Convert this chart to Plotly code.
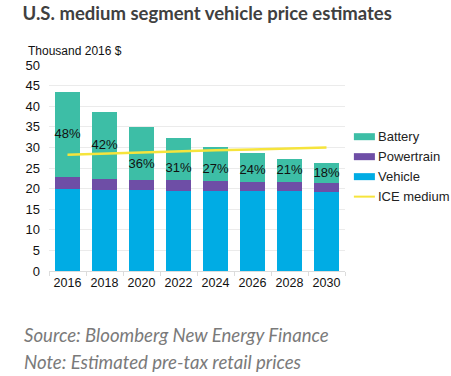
import plotly.graph_objects as go

years = ["2016", "2018", "2020", "2022", "2024", "2026", "2028", "2030"]
vehicle = [19.9, 19.7, 19.6, 19.5, 19.4, 19.4, 19.3, 19.2]
powertrain = [2.8, 2.7, 2.6, 2.6, 2.5, 2.3, 2.2, 2.2]
battery = [20.8, 16.1, 12.7, 10.2, 8.3, 6.9, 5.8, 4.8]
battery_share = ["48%", "42%", "36%", "31%", "27%", "24%", "21%", "18%"]
share_label_y = [33.0, 30.4, 25.7, 24.8, 24.5, 24.3, 24.3, 23.7]
ice_medium = [28.2, 28.5, 28.8, 29.0, 29.3, 29.5, 29.8, 30.0]

C_VEH = "#00ACE4"
C_PWR = "#6E4EA6"
C_BAT = "#3DBEA6"
C_ICE = "#F6E43C"

fig = go.Figure()
fig.add_bar(x=years, y=vehicle, name="Vehicle", marker_color=C_VEH, marker_line_width=0)
fig.add_bar(x=years, y=powertrain, name="Powertrain", marker_color=C_PWR, marker_line_width=0)
fig.add_bar(x=years, y=battery, name="Battery", marker_color=C_BAT, marker_line_width=0)
fig.add_scatter(x=years, y=ice_medium, name="ICE medium", mode="lines",
                line=dict(color=C_ICE, width=2.5))
fig.add_scatter(x=years, y=share_label_y, mode="text", text=battery_share,
                textfont=dict(family="Liberation Sans, Arial", size=13, color="#111"),
                showlegend=False, hoverinfo="skip")

# custom legend (paper coordinates)
legend_items = [("Battery", C_BAT, "bar"), ("Powertrain", C_PWR, "bar"),
                ("Vehicle", C_VEH, "bar"), ("ICE medium", C_ICE, "line")]
ys = [0.652, 0.555, 0.458, 0.361]
shapes = []
annotations = []
for (name, col, kind), yy in zip(legend_items, ys):
    if kind == "bar":
        shapes.append(dict(type="rect", xref="paper", yref="paper",
                           x0=1.030, x1=1.101, y0=yy - 0.017, y1=yy + 0.017,
                           fillcolor=col, line_width=0))
    else:
        shapes.append(dict(type="line", xref="paper", yref="paper",
                           x0=1.030, x1=1.101, y0=yy, y1=yy,
                           line=dict(color=col, width=2)))
    annotations.append(dict(text=name, xref="paper", yref="paper", x=1.105, y=yy,
                            xanchor="left", yanchor="middle", showarrow=False,
                            font=dict(family="Liberation Sans, Arial", size=13, color="#222")))

annotations.append(dict(text="Thousand 2016 $", xref="paper", yref="paper",
                        x=-0.078, y=1.068, xanchor="left", yanchor="middle", showarrow=False,
                        font=dict(family="Liberation Sans, Arial", size=12, color="#111")))
annotations.append(dict(text="<i>Source: Bloomberg New Energy Finance</i>", xref="paper", yref="paper",
                        x=-0.09, y=-0.31, xanchor="left", yanchor="middle", showarrow=False,
                        font=dict(family="Lato, Open Sans", size=18.6, color="#7a7a7a")))
annotations.append(dict(text="<i>Note: Estimated pre-tax retail prices</i>", xref="paper", yref="paper",
                        x=-0.09, y=-0.44, xanchor="left", yanchor="middle", showarrow=False,
                        font=dict(family="Lato, Open Sans", size=18.6, color="#7a7a7a")))

fig.update_layout(
    barmode="stack",
    bargap=0.35,
    width=451, height=376,
    margin=dict(l=49, r=106, t=65, b=105),
    paper_bgcolor="white", plot_bgcolor="white",
    showlegend=False,
    title=dict(text="<b>U.S. medium segment vehicle price estimates</b>",
               x=0.05, xanchor="left", y=0.965, yanchor="middle",
               font=dict(family="Lato, Open Sans", size=18.5, color="#404040")),
    shapes=shapes,
    annotations=annotations,
    font=dict(family="Liberation Sans, Arial", size=13, color="#111"),
)
fig.update_xaxes(showline=True, linecolor="#dcdcdc", linewidth=1, ticks="outside",
                 tickson="boundaries", ticklen=4, tickcolor="#dcdcdc", showgrid=False,
                 tickangle=0, tickfont=dict(size=12.5, color="#111"))
fig.update_yaxes(range=[0, 50], dtick=5, showgrid=True, gridcolor="#ebebeb", gridwidth=1,
                 zeroline=False, showline=False, ticks="", ticklabelstandoff=8,
                 tickfont=dict(size=13, color="#111"))

fig.write_html("out.html", config={"displayModeBar": False},
               post_script="document.body.style.margin='0';")
